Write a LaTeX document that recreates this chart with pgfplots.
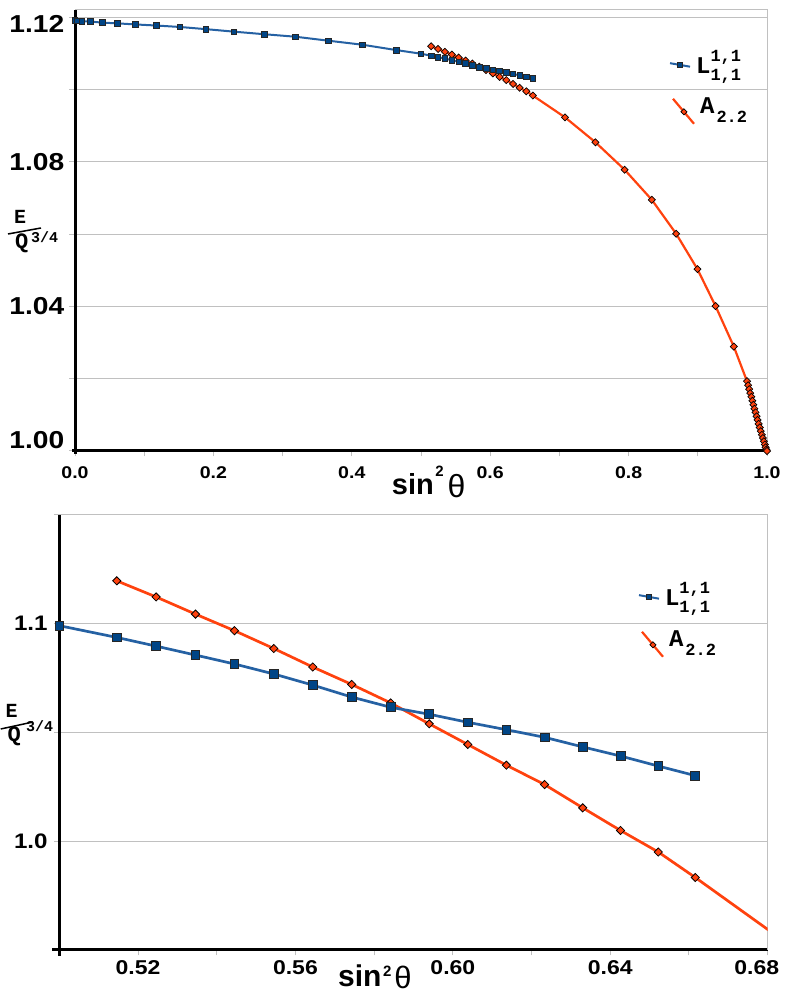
\documentclass[border=0pt]{standalone}
\usepackage{fontspec}
\setmainfont{Liberation Sans}
\setmonofont{Liberation Mono}
\newfontfamily\tickfont[FakeStretch=1.15]{Liberation Sans}
\usepackage{pgfplots}
\pgfplotsset{compat=1.18}
\usepackage{pgfplotstable}
\definecolor{oran}{HTML}{FF420E}
\definecolor{bluem}{HTML}{004586}
\definecolor{bluel}{HTML}{2561A3}
\definecolor{gridg}{HTML}{C0C0C0}
\newcommand{\fs}[1]{\fontsize{#1}{#1}\selectfont}

\pgfplotstableread{
x y
0.0000 1.1191
0.0025 1.1190
0.0100 1.1189
0.0223 1.1188
0.0395 1.1185
0.0612 1.1183
0.0873 1.1180
0.1176 1.1177
0.1516 1.1173
0.1892 1.1167
0.2298 1.1160
0.2732 1.1153
0.3188 1.1146
0.3662 1.1135
0.4150 1.1124
0.4646 1.1109
0.5000 1.1099
0.5146 1.10936
0.5246 1.10896
0.5346 1.10855
0.5445 1.10814
0.5545 1.10768
0.5644 1.10717
0.5743 1.10662
0.5842 1.10615
0.5940 1.10583
0.6038 1.10546
0.6136 1.10512
0.6233 1.10477
0.6330 1.10433
0.6426 1.10391
0.6522 1.10345
0.6616 1.10301
}\tabL

\pgfplotstableread{
x y
0.5146 1.11196
0.5246 1.11122
0.5346 1.11043
0.5445 1.10967
0.5545 1.10885
0.5644 1.10800
0.5743 1.10720
0.5842 1.10635
0.5940 1.10539
0.6038 1.10444
0.6136 1.10349
0.6233 1.10260
0.6330 1.10153
0.6426 1.10049
0.6522 1.09950
0.6616 1.09833
0.7081 1.0923
0.7521 1.0854
0.7943 1.0778
0.8335 1.0695
0.8687 1.0601
0.8995 1.0503
0.9256 1.0401
0.9520 1.0289
0.9711 1.0193
0.9727 1.0182
0.9742 1.0171
0.9757 1.0160
0.9773 1.0150
0.9788 1.0139
0.9803 1.0128
0.9818 1.0117
0.9834 1.0107
0.9849 1.0096
0.9864 1.0086
0.9879 1.0075
0.9895 1.0065
0.9910 1.0055
0.9925 1.0045
0.9940 1.0036
0.9955 1.0027
0.9968 1.0018
0.9980 1.0010
0.9991 1.0004
1.0000 1.0000
}\tabA

\pgfplotsset{
  limg/.style={legend image code/.code={
     \draw[bluel, line width=2pt] (0pt,10pt) -- (20pt,6.5pt);
     \draw[mark=square*, mark size=2.3pt, mark options={fill=bluem, draw=black!85, line width=0.7pt}] plot coordinates {(10pt,8.3pt)};
  }},
  aimg/.style={legend image code/.code={
     \draw[oran, line width=2.2pt] (3pt,14.7pt) -- (24pt,-10.3pt);
     \draw[mark=square*, mark size=2.2pt, mark options={rotate=45, fill=oran, draw=black, line width=0.7pt}] plot coordinates {(13.9pt,1.7pt)};
  }},
  common/.style={
    scale only axis,
    axis x line=bottom, axis y line=left,
    axis line style={-, black, line width=3pt},
    tick align=outside,
    major tick length=5.5pt,
    tick style={gridg, line width=1pt},
    ymajorgrids=true,
    major grid style={gridg, line width=1pt},
    reverse legend,
    legend cell align=left,
  },
}

\newcommand{\Lentry}{\ttfamily\bfseries\fs{24}L{\fs{17}\rlap{\raisebox{12pt}{1,1}}\raisebox{-7pt}{1,1}}}
\newcommand{\Aentry}{\ttfamily\bfseries\fs{24}\hspace{4pt}A{\fs{17}\hspace{2pt}\raisebox{-9pt}{2.2}}}

\begin{document}
\begin{tikzpicture}
\path[use as bounding box] (0pt,0pt) rectangle (786pt,995pt);

% ---------------- top axis
\begin{axis}[common,
  at={(75pt,544pt)}, anchor=south west,
  width=692pt, height=441pt,
  xmin=0, xmax=1, ymin=1.0, ymax=1.1220,
  clip=false,
  xtick={0,0.1,0.2,0.3,0.4,0.5,0.6,0.7,0.8,0.9,1},
  xticklabels={0.0,,0.2,,0.4,,0.6,,0.8,,1.0},
  ytick={1.00,1.02,1.04,1.06,1.08,1.10,1.12},
  yticklabels={\smash{\raisebox{2.4pt}{1.00}},,\smash{\raisebox{-8.2pt}{1.04}},,\smash{\raisebox{-8.8pt}{1.08}},,\smash{\raisebox{-15pt}{1.12}}},
  xticklabel style={font=\tickfont\bfseries\fs{17}, inner sep=0pt, yshift=-10pt},
  yticklabel style={font=\tickfont\bfseries\fs{24.5}, inner sep=0pt, xshift=-5pt},
  legend style={draw=none, fill=none, at={(0.8584,0.9093)}, anchor=north west,
     inner sep=0pt, outer sep=0pt, row sep=23pt, column sep=1pt,
     nodes={inner sep=0pt, anchor=base west}},
]
\draw[gridg, line width=1pt] (rel axis cs:0,1) -- (rel axis cs:1,1) -- (rel axis cs:1,0);
\draw[black, line width=3pt] (rel axis cs:0,0) -- ++(-3pt,0pt);
\draw[black, line width=3pt] (rel axis cs:0,0) -- ++(0pt,-3pt);
\addplot[oran, line width=2.2pt, mark=square*, mark size=2.5pt,
  mark options={rotate=45, fill=oran, draw=black, line width=0.7pt}, aimg] table {\tabA};
\addlegendentry{\Aentry}
\addplot[bluel, line width=2pt, mark=square*, mark size=2.8pt,
  mark options={fill=bluem, draw=black!85, line width=0.7pt}, limg] table {\tabL};
\addlegendentry{\Lentry}
\end{axis}

% ---------------- bottom axis
\begin{axis}[common,
  at={(59.3pt,45pt)}, anchor=south west,
  width=708.4pt, height=435.3pt,
  xmin=0.5, xmax=0.68, ymin=1.095, ymax=1.115,
  clip mode=individual,
  xtick={0.52,0.54,0.56,0.58,0.60,0.62,0.64,0.66,0.68},
  xticklabels={0.52,,0.56,,0.60,,0.64,,0.68\hspace*{22pt}},
  ytick={1.095,1.100,1.105,1.110,1.115},
  yticklabels={,1.0,,1.1,},
  xticklabel style={font=\tickfont\bfseries\fs{20}, inner sep=0pt, yshift=-4.5pt},
  yticklabel style={font=\tickfont\bfseries\fs{21}, inner sep=0pt, xshift=-6pt},
  legend style={draw=none, fill=none, at={(0.8169,0.8454)}, anchor=north west,
     inner sep=0pt, outer sep=0pt, row sep=24pt, column sep=1pt,
     nodes={inner sep=0pt, anchor=base west}},
]
\draw[gridg, line width=1pt] (rel axis cs:0,1) -- (rel axis cs:1,1) -- (rel axis cs:1,0);
\draw[black, line width=3pt] (rel axis cs:0,0) -- ++(-7pt,0pt);
\draw[black, line width=3pt] (rel axis cs:0,0) -- ++(0pt,-6pt);
\addplot[oran, line width=2.7pt, forget plot] table {\tabA};
\addplot[only marks, restrict x to domain=0.49:0.681, mark=square*, mark size=2.9pt,
  mark options={rotate=45, fill=oran, draw=black, line width=0.8pt}, aimg] table {\tabA};
\addlegendentry{\Aentry}
\addplot[bluel, line width=2.7pt, restrict x to domain=0.4999:0.681, mark=square*, mark size=4.4pt,
  mark options={fill=bluem, draw=black!85, line width=0.8pt}, limg] table {\tabL};
\addlegendentry{\Lentry}
\end{axis}

% ---------------- axis labels
\node[anchor=base west, inner sep=0pt] at (391.7pt,500pt)
  {\bfseries\fs{29}sin\hspace{1.5pt}\raisebox{18pt}{\fs{15}2}\hspace{4pt}\raisebox{-3pt}{\mdseries\fs{32}θ}};
\node[anchor=base west, inner sep=0pt] at (338pt,8.3pt)
  {\bfseries\fs{30}sin\hspace{1.5pt}\raisebox{10pt}{\fs{15}2}\hspace{3pt}\raisebox{-1.5pt}{\mdseries\fs{31}θ}};

\node[anchor=base west, inner sep=0pt] at (14pt,771pt) {\ttfamily\bfseries\fs{20}E};
\draw[black, line width=1.5pt] (8pt,761pt) -- (41pt,767pt);
\node[anchor=base west, inner sep=0pt] at (15pt,746pt) {\ttfamily\bfseries\fs{22}Q};
\node[anchor=base west, inner sep=0pt] at (31pt,752pt) {\ttfamily\bfseries\fs{15}3/4};

\node[anchor=base west, inner sep=0pt] at (5.5pt,277pt) {\ttfamily\bfseries\fs{20}E};
\draw[black, line width=1.5pt] (0.7pt,266pt) -- (33pt,273pt);
\node[anchor=base west, inner sep=0pt] at (7.5pt,253pt) {\ttfamily\bfseries\fs{22}Q};
\node[anchor=base west, inner sep=0pt] at (26pt,263.3pt) {\ttfamily\bfseries\fs{15}3/4};
\end{tikzpicture}
\end{document}
